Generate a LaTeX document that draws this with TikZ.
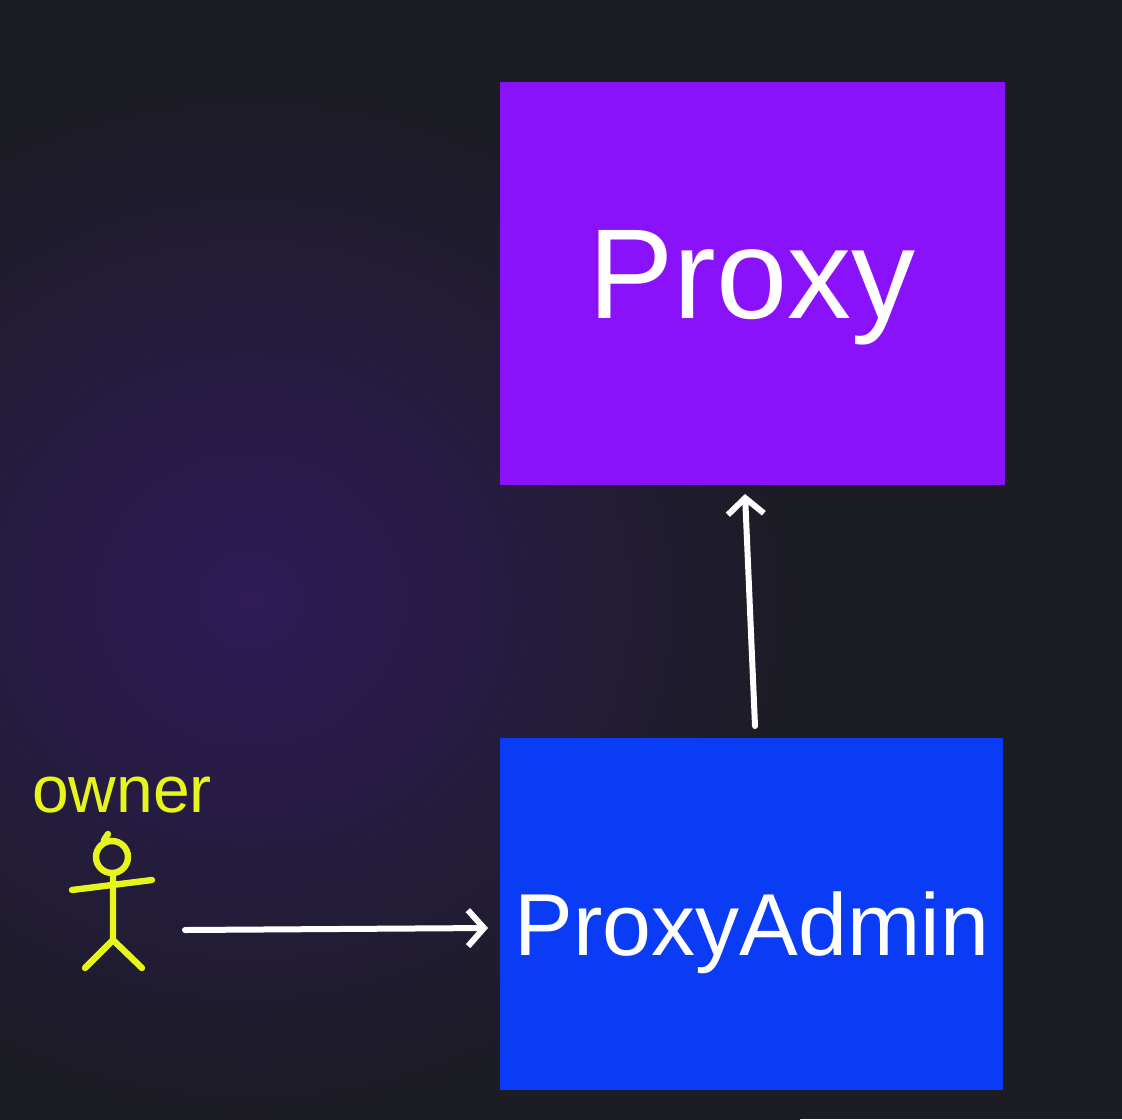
\documentclass[tikz,border=0pt]{standalone}
\usepackage{fontspec}
\setmainfont{Liberation Sans}
\usetikzlibrary{arrows.meta}
\definecolor{bgd}{HTML}{1C1C24}
\definecolor{glow}{HTML}{2E1B58}
\definecolor{proxyc}{HTML}{8A12FB}
\definecolor{adminc}{HTML}{0A3CF5}
\definecolor{ylw}{HTML}{E6F51C}
\tikzset{
  box/.style={draw=none,inner sep=0pt,text=white},
  conn/.style={white,line width=3pt,line cap=round,line join=round,-{Straight Barb[length=8pt,width=18pt,line width=3pt]}},
  fig/.style={ylw,line width=3.2pt,line cap=round}
}
\begin{document}
\begin{tikzpicture}[x=0.5pt,y=-0.5pt]
\useasboundingbox (0,0) rectangle (1122,1119);
\fill[bgd] (0,0) rectangle (1122,1119);
\shade[inner color=glow,outer color=bgd] (-300,80) rectangle (800,1119);
\node[box,fill=proxyc,minimum width=252.5pt,minimum height=201.5pt] (proxy) at (752.5,283.5) {};
\node[text=white,font=\fontsize{64}{70}\selectfont] (ptext) at (752,288) {Proxy};
\node[box,fill=adminc,minimum width=251.5pt,minimum height=176pt] (admin) at (751.5,914) {};
\node[text=white,font=\fontsize{44}{50}\selectfont] (atext) at (752,933) {ProxyAdmin};
\coordinate (a1) at (755,726);
\coordinate (a2) at (745,494);
\draw[conn] (a1) -- (a2);
\node[text=ylw,font=\fontsize{33}{38}\selectfont] (owner) at (122,795) {owner};
\draw[fig] (112,857) circle (16);
\draw[fig] (104,840) -- (108,834);
\draw[fig] (113,873) -- (113,940) (72,890) -- (152,880) (85,968) -- (113,940) -- (142,968);
\coordinate (o1) at (185,930);
\coordinate (o2) at (488,928);
\draw[conn] (o1) -- (o2);
\end{tikzpicture}
\end{document}
